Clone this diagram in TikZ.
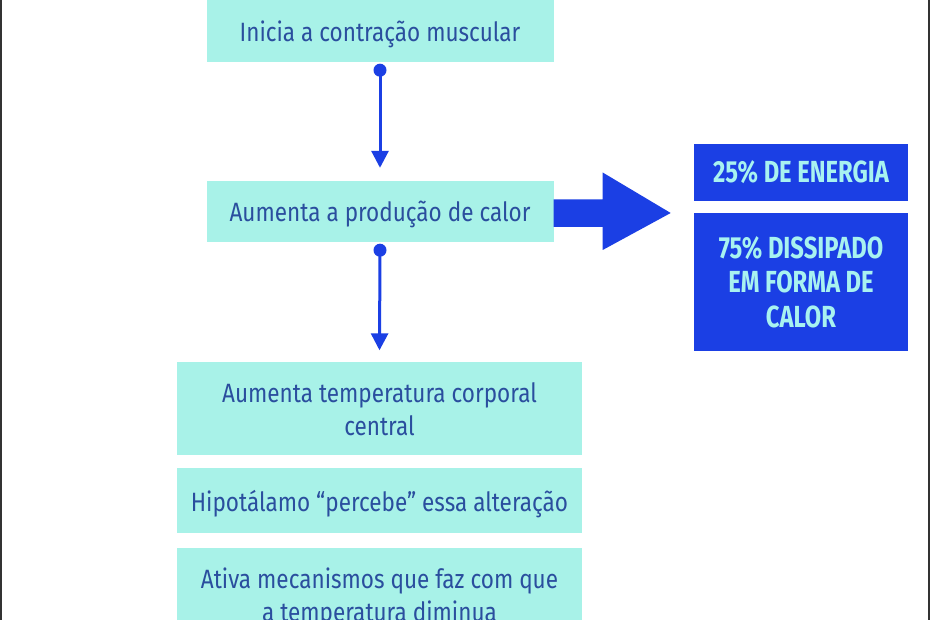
\documentclass[tikz,border=0pt]{standalone}
\usepackage{fontspec}
\setmainfont{Fira Sans}[FakeStretch=0.85]
\newfontfamily\boldcond{Fira Sans}[FakeStretch=0.78,UprightFont=*-Bold]
\usetikzlibrary{arrows.meta,calc}
\definecolor{aqua}{HTML}{A8F2E8}
\definecolor{navytext}{HTML}{2A4E9E}
\definecolor{vivid}{HTML}{1B3FE4}
\definecolor{paletext}{HTML}{A8F2F0}
\tikzset{
  aquabox/.style={fill=aqua, draw=none, inner sep=0pt, align=center, text depth=0pt,
    text=navytext, font=\fontsize{26.5}{33}\selectfont},
  bluebox/.style={fill=vivid, draw=none, inner sep=0pt, align=center,
    text=paletext, font=\boldcond\fontsize{30.5}{34.5}\selectfont},
  conn/.style={draw=vivid, line width=3pt, -{Triangle[width=17pt,length=17pt]}},
  dotc/.style={fill=vivid},
  bigarrow/.style={fill=vivid, draw=none}
}
\begin{document}
\begin{tikzpicture}[x=1pt,y=-1pt]
\useasboundingbox (0,0) rectangle (930,620);
\clip (0,0) rectangle (930,620);
\fill[white] (0,0) rectangle (930,620);
\fill[black!80] (0,0) rectangle (2,620);
\fill[black!80] (928,0) rectangle (930,620);

\node[aquabox, minimum width=347pt, minimum height=62pt] (b1) at (380,31) {Inicia a contração muscular};
\node[aquabox, minimum width=347pt, minimum height=61pt] (b2) at (380,211.5) {Aumenta a produção de calor};
\node[aquabox, minimum width=405pt, minimum height=93pt] (b3) at (379.5,409) {Aumenta temperatura corporal\\central};
\node[aquabox, minimum width=405pt, minimum height=65pt] (b4) at (379.5,500.5) {Hipotálamo “percebe” essa alteração};
\node[aquabox, minimum width=405pt, minimum height=93pt] (b5) at (379.5,594.5) {Ativa mecanismos que faz com que\\a temperatura diminua};

\node[bluebox, minimum width=214pt, minimum height=57pt] (e1) at (801,172.5) {25\% DE ENERGIA};
\node[bluebox, minimum width=214pt, minimum height=138pt] (e2) at (801,282) {75\% DISSIPADO\\EM FORMA DE\\CALOR};

\coordinate (d1) at ([yshift=-8pt]b1.south);
\coordinate (d2) at ([yshift=-8pt]b2.south);
\fill[dotc] (d1) circle (6.5pt);
\draw[conn] (d1) -- ([yshift=13pt]b2.north);
\fill[dotc] (d2) circle (6.5pt);
\draw[conn] (d2) -- ([yshift=12pt]b3.north);

\begin{scope}[shift={(b2.east)}]
\fill[bigarrow] (0,-12) -- (49,-12) -- (49,-39) -- (117,1.5) -- (49,38.5) -- (49,15.5) -- (0,15.5) -- cycle;
\end{scope}
\end{tikzpicture}
\end{document}
